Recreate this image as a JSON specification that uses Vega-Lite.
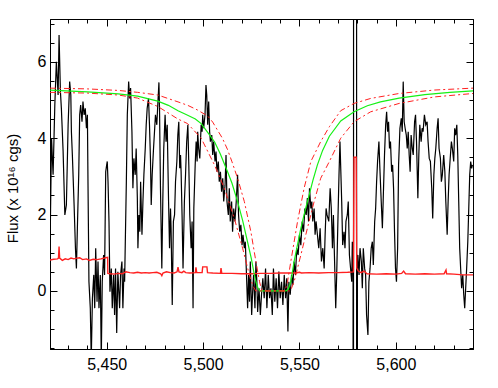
{
  "$schema": "https://vega.github.io/schema/vega-lite/v6.json",
  "width": 423,
  "height": 330,
  "autosize": "none",
  "padding": {"left": 50, "top": 19, "right": 25, "bottom": 39},
  "background": "white",
  "config": {
    "view": {"stroke": "#000", "strokeWidth": 1},
    "font": "Liberation Sans",
    "axis": {"grid": false, "domainColor": "#000", "tickColor": "#000", "labelColor": "#000", "titleColor": "#000", "offset": 0, "labelFont": "Liberation Sans", "titleFont": "Liberation Sans"}
  },
  "datasets": {
    "spec": [
      {"x":5420.3,"y":0.6},{"x":5420.8,"y":1.8},{"x":5421.4,"y":4.0},{"x":5422.2,"y":3.04},{"x":5423.1,"y":4.87},{"x":5423.9,"y":6.0},{"x":5424.8,"y":5.13},{"x":5425.3,"y":6.7},{"x":5426.0,"y":5.22},{"x":5426.5,"y":4.78},{"x":5427.4,"y":3.65},{"x":5428.3,"y":1.99},{"x":5429.1,"y":2.25},{"x":5430.0,"y":4.35},{"x":5430.8,"y":5.48},{"x":5431.4,"y":5.13},{"x":5431.7,"y":4.17},{"x":5432.2,"y":3.56},{"x":5433.1,"y":2.25},{"x":5433.8,"y":1.12},{"x":5434.3,"y":0.59},{"x":5434.8,"y":1.64},{"x":5435.5,"y":3.04},{"x":5436.0,"y":4.61},{"x":5436.5,"y":4.87},{"x":5437.2,"y":4.43},{"x":5437.7,"y":4.96},{"x":5438.3,"y":4.61},{"x":5438.9,"y":4.78},{"x":5439.5,"y":4.26},{"x":5440.0,"y":4.61},{"x":5440.3,"y":2.86},{"x":5440.8,"y":0.24},{"x":5441.5,"y":-0.45},{"x":5442.0,"y":-1.8},{"x":5442.6,"y":-0.19},{"x":5443.3,"y":0.42},{"x":5443.8,"y":-0.45},{"x":5444.3,"y":1.12},{"x":5445.0,"y":-0.28},{"x":5445.5,"y":0.77},{"x":5446.0,"y":-0.45},{"x":5446.7,"y":0.42},{"x":5447.2,"y":-1.8},{"x":5447.7,"y":0.24},{"x":5448.4,"y":0.94},{"x":5448.9,"y":0.42},{"x":5449.5,"y":3.12},{"x":5450.0,"y":3.3},{"x":5450.3,"y":3.39},{"x":5450.7,"y":2.86},{"x":5451.2,"y":1.82},{"x":5451.7,"y":-0.02},{"x":5452.4,"y":0.59},{"x":5452.9,"y":-0.45},{"x":5453.6,"y":0.42},{"x":5454.1,"y":-0.63},{"x":5454.6,"y":0.59},{"x":5455.2,"y":-1.1},{"x":5455.8,"y":0.5},{"x":5456.7,"y":-0.45},{"x":5457.2,"y":0.42},{"x":5457.9,"y":0.77},{"x":5458.4,"y":-0.45},{"x":5459.0,"y":0.59},{"x":5459.3,"y":0.24},
      {"x":5460.2,"y":2.86},{"x":5460.7,"y":4.61},{"x":5461.4,"y":5.48},{"x":5461.9,"y":5.04},{"x":5462.4,"y":5.31},{"x":5463.1,"y":4.17},{"x":5463.6,"y":2.69},{"x":5464.1,"y":3.47},{"x":5464.8,"y":3.04},{"x":5465.3,"y":3.73},{"x":5465.9,"y":2.43},{"x":5466.2,"y":1.12},{"x":5466.7,"y":1.99},{"x":5467.2,"y":1.55},{"x":5467.6,"y":2.86},{"x":5468.3,"y":1.47},{"x":5468.8,"y":2.34},{"x":5469.3,"y":3.04},{"x":5470.0,"y":3.73},{"x":5470.5,"y":4.35},{"x":5471.0,"y":4.78},{"x":5471.7,"y":5.04},{"x":5472.2,"y":4.35},{"x":5472.7,"y":3.47},{"x":5473.1,"y":2.25},{"x":5473.6,"y":3.04},{"x":5474.3,"y":3.73},{"x":5474.8,"y":4.17},{"x":5475.3,"y":4.61},{"x":5476.0,"y":4.35},{"x":5476.5,"y":4.87},{"x":5477.1,"y":5.46},{"x":5477.4,"y":4.78},{"x":5477.9,"y":2.69},{"x":5478.6,"y":0.59},{"x":5479.1,"y":2.34},{"x":5479.6,"y":3.73},{"x":5480.3,"y":4.61},{"x":5480.8,"y":3.91},{"x":5481.4,"y":4.35},{"x":5481.7,"y":3.47},{"x":5482.1,"y":2.34},{"x":5482.6,"y":1.12},{"x":5483.1,"y":2.16},{"x":5483.4,"y":1.64},{"x":5484.0,"y":-0.37},{"x":5484.6,"y":1.82},{"x":5485.2,"y":1.99},{"x":5485.7,"y":2.86},{"x":5486.4,"y":3.39},{"x":5486.9,"y":4.08},{"x":5487.4,"y":4.43},{"x":5487.9,"y":3.21},{"x":5488.3,"y":3.56},{"x":5488.6,"y":3.12},{"x":5489.1,"y":1.99},{"x":5489.6,"y":0.59},{"x":5490.3,"y":2.34},{"x":5490.9,"y":3.04},{"x":5491.5,"y":3.91},{"x":5492.1,"y":4.35},
      {"x":5492.6,"y":3.3},{"x":5493.1,"y":1.99},{"x":5493.8,"y":1.12},{"x":5494.3,"y":1.82},{"x":5494.8,"y":-0.45},{"x":5495.2,"y":2.16},{"x":5495.9,"y":3.3},{"x":5496.4,"y":3.91},{"x":5496.9,"y":3.39},{"x":5497.2,"y":4.17},{"x":5497.7,"y":3.73},{"x":5498.3,"y":3.47},{"x":5499.0,"y":4.35},{"x":5499.5,"y":4.17},{"x":5499.8,"y":4.61},{"x":5500.3,"y":4.26},{"x":5501.0,"y":4.61},{"x":5501.5,"y":5.39},{"x":5501.9,"y":5.13},{"x":5502.4,"y":4.35},{"x":5502.9,"y":4.96},{"x":5503.4,"y":4.17},{"x":5503.8,"y":3.91},{"x":5504.5,"y":4.08},{"x":5505.0,"y":3.56},{"x":5505.5,"y":3.91},{"x":5506.2,"y":3.39},{"x":5506.7,"y":3.65},{"x":5507.2,"y":3.12},{"x":5507.9,"y":3.39},{"x":5508.4,"y":2.86},{"x":5509.0,"y":3.12},{"x":5509.6,"y":2.6},{"x":5510.2,"y":2.95},{"x":5510.7,"y":2.34},{"x":5511.4,"y":2.77},{"x":5511.9,"y":3.56},{"x":5512.4,"y":2.34},{"x":5513.1,"y":1.99},{"x":5513.6,"y":2.69},{"x":5514.1,"y":1.82},{"x":5514.8,"y":2.34},{"x":5515.3,"y":1.55},{"x":5515.9,"y":2.16},{"x":5516.5,"y":1.82},{"x":5517.2,"y":2.34},{"x":5517.9,"y":3.04},{"x":5518.4,"y":1.99},{"x":5519.0,"y":1.55},{"x":5519.6,"y":1.73},{"x":5520.2,"y":1.2},{"x":5520.7,"y":1.47},{"x":5521.4,"y":1.12},{"x":5521.9,"y":1.29},{"x":5522.4,"y":0.59},{"x":5523.1,"y":-0.45},{"x":5523.6,"y":0.42},{"x":5524.1,"y":-0.28},{"x":5524.5,"y":0.77},{"x":5525.2,"y":-0.63},{"x":5525.7,"y":-0.02},{"x":5526.2,"y":0.42},{"x":5526.9,"y":-0.45},{"x":5527.4,"y":0.77},{"x":5527.9,"y":0.24},
      {"x":5528.3,"y":-0.55},{"x":5529.0,"y":0.07},{"x":5529.7,"y":-0.63},{"x":5530.3,"y":-0.1},{"x":5531.0,"y":0.33},{"x":5531.7,"y":-0.19},{"x":5532.4,"y":0.59},{"x":5533.1,"y":-0.45},{"x":5533.8,"y":0.42},{"x":5534.5,"y":-0.19},{"x":5535.2,"y":0.07},{"x":5535.9,"y":-0.63},{"x":5536.5,"y":0.59},{"x":5537.2,"y":-0.28},{"x":5537.9,"y":0.33},{"x":5538.6,"y":-0.45},{"x":5539.3,"y":0.51},{"x":5540.0,"y":-0.19},{"x":5540.7,"y":0.24},{"x":5541.4,"y":-0.37},{"x":5542.1,"y":0.42},{"x":5542.8,"y":-0.19},{"x":5543.4,"y":0.33},{"x":5544.0,"y":-1.06},{"x":5544.5,"y":0.24},{"x":5545.2,"y":-0.1},{"x":5545.9,"y":0.42},{"x":5546.6,"y":0.16},{"x":5547.2,"y":0.77},{"x":5547.9,"y":0.42},{"x":5548.6,"y":1.12},{"x":5549.3,"y":0.94},{"x":5550.0,"y":1.47},{"x":5550.7,"y":1.2},{"x":5551.4,"y":1.82},{"x":5552.1,"y":1.55},{"x":5552.8,"y":2.16},{"x":5553.5,"y":1.99},{"x":5554.1,"y":2.43},{"x":5554.7,"y":1.82},{"x":5555.2,"y":2.69},{"x":5555.9,"y":2.16},{"x":5556.4,"y":2.34},{"x":5556.9,"y":1.82},{"x":5557.6,"y":2.16},{"x":5558.1,"y":1.47},{"x":5558.6,"y":1.82},{"x":5559.3,"y":1.47},{"x":5560.0,"y":1.12},{"x":5560.7,"y":1.64},{"x":5561.4,"y":0.77},{"x":5562.1,"y":1.12},{"x":5562.8,"y":0.59},{"x":5563.3,"y":1.47},{"x":5563.8,"y":2.16},{"x":5564.3,"y":1.99},
      {"x":5565.2,"y":1.82},{"x":5565.9,"y":2.69},{"x":5566.5,"y":2.16},{"x":5567.1,"y":1.12},{"x":5567.6,"y":1.99},{"x":5568.3,"y":0.59},{"x":5568.8,"y":-0.45},{"x":5569.3,"y":0.42},{"x":5570.0,"y":1.99},{"x":5570.5,"y":3.04},{"x":5571.0,"y":3.91},{"x":5571.4,"y":3.21},{"x":5571.9,"y":2.34},{"x":5572.4,"y":1.2},{"x":5573.1,"y":1.55},{"x":5573.6,"y":1.12},{"x":5574.1,"y":1.82},{"x":5574.8,"y":1.99},{"x":5575.3,"y":2.34},{"x":5575.9,"y":0.94},{"x":5576.5,"y":0.59},{"x":5577.1,"y":0.24},{"x":5577.4,"y":1.29},{"x":5577.8,"y":0.5},{"x":5577.85,"y":-60},{"x":5578.2,"y":60},{"x":5579.6,"y":60},{"x":5579.65,"y":-60},{"x":5580.0,"y":-60},{"x":5580.05,"y":0.9},{"x":5580.3,"y":0.94},{"x":5580.9,"y":0.42},{"x":5581.4,"y":1.12},{"x":5582.1,"y":0.77},{"x":5582.6,"y":0.07},{"x":5583.1,"y":1.12},{"x":5583.8,"y":0.59},{"x":5584.3,"y":0.42},{"x":5584.8,"y":-0.63},{"x":5585.5,"y":-1.15},{"x":5586.0,"y":0.24},{"x":5586.6,"y":0.59},{"x":5587.2,"y":1.12},{"x":5587.8,"y":1.29},{"x":5588.3,"y":0.68},{"x":5589.0,"y":1.82},{"x":5589.5,"y":2.16},{"x":5590.0,"y":2.86},{"x":5590.5,"y":3.39},{"x":5591.2,"y":3.91},{"x":5591.7,"y":3.21},{"x":5592.4,"y":2.34},{"x":5593.0,"y":1.64},{"x":5593.4,"y":2.34},{"x":5594.1,"y":3.56},{"x":5594.7,"y":4.35},{"x":5595.2,"y":4.69},{"x":5595.7,"y":4.17},{"x":5596.2,"y":4.43},{"x":5596.7,"y":3.73},{"x":5597.2,"y":3.91},{"x":5597.8,"y":3.12},{"x":5598.3,"y":3.3},{"x":5598.8,"y":2.69},{"x":5599.3,"y":1.55},{"x":5599.8,"y":0.59},{"x":5600.3,"y":0.24},{"x":5600.9,"y":1.12},
      {"x":5601.4,"y":3.3},{"x":5602.1,"y":4.26},{"x":5602.8,"y":4.52},{"x":5603.3,"y":4.17},{"x":5603.8,"y":5.48},{"x":5604.3,"y":4.43},{"x":5604.8,"y":4.26},{"x":5605.4,"y":4.08},{"x":5605.9,"y":3.73},{"x":5606.4,"y":4.17},{"x":5606.9,"y":3.56},{"x":5607.4,"y":3.12},{"x":5607.9,"y":4.08},{"x":5608.5,"y":3.73},{"x":5609.0,"y":3.56},{"x":5609.7,"y":4.43},{"x":5610.2,"y":4.61},{"x":5610.7,"y":3.91},{"x":5611.4,"y":2.43},{"x":5611.9,"y":3.56},{"x":5612.4,"y":4.35},{"x":5613.1,"y":3.91},{"x":5613.6,"y":4.26},{"x":5614.1,"y":4.17},{"x":5614.8,"y":4.61},{"x":5615.5,"y":4.35},{"x":5616.2,"y":4.43},{"x":5616.7,"y":3.91},{"x":5617.3,"y":3.47},{"x":5617.9,"y":3.39},{"x":5618.6,"y":2.69},{"x":5619.1,"y":1.9},{"x":5619.7,"y":3.04},{"x":5620.2,"y":3.47},{"x":5620.7,"y":3.73},{"x":5621.4,"y":4.26},{"x":5621.9,"y":4.52},{"x":5622.4,"y":3.73},{"x":5623.1,"y":3.47},{"x":5623.6,"y":2.86},{"x":5624.1,"y":3.04},{"x":5624.8,"y":3.56},{"x":5625.4,"y":3.12},{"x":5625.9,"y":2.34},{"x":5626.6,"y":1.47},{"x":5627.1,"y":2.34},{"x":5627.6,"y":3.04},{"x":5628.3,"y":3.56},{"x":5628.8,"y":3.91},{"x":5629.3,"y":3.73},{"x":5630.0,"y":3.39},{"x":5630.5,"y":4.26},{"x":5631.0,"y":4.08},{"x":5631.6,"y":4.35},{"x":5632.1,"y":3.56},{"x":5632.6,"y":2.34},{"x":5633.1,"y":1.12},{"x":5633.6,"y":0.59},{"x":5634.1,"y":0.07},{"x":5634.7,"y":0.42},{"x":5635.2,"y":-0.1},{"x":5635.7,"y":-0.45},{"x":5636.2,"y":0.07},{"x":5636.7,"y":0.59},{"x":5637.3,"y":1.29},{"x":5637.8,"y":2.16},{"x":5638.3,"y":3.04},{"x":5638.8,"y":3.39},{"x":5639.3,"y":3.21},{"x":5639.7,"y":3.3}
    ],
    "err": [
      {"x":5420.5,"y":0.81},{"x":5422.5,"y":0.83},{"x":5424.5,"y":0.84},{"x":5425.0,"y":0.86},{"x":5425.3,"y":1.16},{"x":5425.6,"y":0.86},{"x":5427.0,"y":0.8},{"x":5428.5,"y":0.84},{"x":5430.0,"y":0.82},{"x":5431.5,"y":0.86},{"x":5433.0,"y":0.84},{"x":5434.5,"y":0.86},{"x":5436.0,"y":0.87},{"x":5437.5,"y":0.82},{"x":5439.5,"y":0.84},{"x":5441.0,"y":0.8},{"x":5443.0,"y":0.83},{"x":5445.0,"y":0.82},{"x":5447.0,"y":0.84},{"x":5449.5,"y":0.87},{"x":5450.5,"y":0.88},{"x":5450.6,"y":0.46},{"x":5452.0,"y":0.45},{"x":5454.0,"y":0.44},{"x":5456.0,"y":0.46},{"x":5458.0,"y":0.45},{"x":5460.0,"y":0.5},{"x":5462.0,"y":0.48},{"x":5464.0,"y":0.47},{"x":5466.0,"y":0.49},{"x":5468.0,"y":0.47},{"x":5470.0,"y":0.48},{"x":5472.0,"y":0.47},{"x":5474.0,"y":0.48},{"x":5476.0,"y":0.49},{"x":5478.0,"y":0.45},{"x":5478.6,"y":0.4},{"x":5479.2,"y":0.47},{"x":5481.0,"y":0.5},{"x":5483.0,"y":0.48},{"x":5485.0,"y":0.47},{"x":5486.5,"y":0.5},{"x":5487.0,"y":0.62},{"x":5487.5,"y":0.5},{"x":5489.0,"y":0.48},{"x":5490.0,"y":0.52},{"x":5491.0,"y":0.48},{"x":5493.0,"y":0.47},{"x":5496.0,"y":0.48},{"x":5496.3,"y":0.62},{"x":5496.7,"y":0.48},{"x":5499.5,"y":0.48},{"x":5499.8,"y":0.63},{"x":5502.0,"y":0.63},{"x":5502.3,"y":0.48},{"x":5505.0,"y":0.47},{"x":5509.0,"y":0.46},{"x":5509.3,"y":0.6},{"x":5509.7,"y":0.46},{"x":5515.0,"y":0.46},{"x":5520.0,"y":0.45},{"x":5525.0,"y":0.45},{"x":5530.0,"y":0.46},{"x":5535.0,"y":0.46},{"x":5540.0,"y":0.47},{"x":5544.0,"y":0.47},{"x":5548.0,"y":0.47},{"x":5550.0,"y":0.49},{"x":5551.0,"y":0.47},{"x":5555.0,"y":0.48},{"x":5560.0,"y":0.47},{"x":5565.0,"y":0.48},{"x":5570.0,"y":0.48},{"x":5575.0,"y":0.49},{"x":5578.0,"y":0.5},{"x":5578.3,"y":3.5},{"x":5579.4,"y":3.5},{"x":5579.7,"y":0.6},{"x":5580.5,"y":0.52},{"x":5582.0,"y":0.48},{"x":5583.5,"y":0.52},{"x":5585.0,"y":0.45},{"x":5590.0,"y":0.44},{"x":5595.0,"y":0.45},{"x":5600.0,"y":0.44},{"x":5603.0,"y":0.46},{"x":5604.0,"y":0.52},{"x":5605.0,"y":0.45},{"x":5610.0,"y":0.44},{"x":5615.0,"y":0.45},{"x":5620.0,"y":0.44},{"x":5625.0,"y":0.45},{"x":5626.0,"y":0.55},{"x":5626.3,"y":0.45},{"x":5630.0,"y":0.44},{"x":5635.0,"y":0.42},{"x":5640.0,"y":0.42}
    ],
    "green": [
      {"x":5420.6,"y":5.26},{"x":5440,"y":5.21},{"x":5456,"y":5.16},{"x":5466,"y":5.1},{"x":5476.5,"y":4.97},{"x":5482,"y":4.86},{"x":5487,"y":4.72},{"x":5492,"y":4.6},{"x":5496,"y":4.5},{"x":5499,"y":4.38},{"x":5502,"y":4.18},{"x":5506,"y":3.9},{"x":5509,"y":3.58},{"x":5512.7,"y":3.12},{"x":5515,"y":2.82},{"x":5517.9,"y":2.34},{"x":5520.5,"y":1.85},{"x":5523,"y":1.3},{"x":5525,"y":0.85},{"x":5526.5,"y":0.45},{"x":5527.5,"y":0.22},{"x":5528.5,"y":0.07},{"x":5529.5,"y":0.0},{"x":5543,"y":0.0},{"x":5544.2,"y":0.05},{"x":5545.5,"y":0.24},{"x":5547.2,"y":0.77},{"x":5549,"y":1.22},{"x":5550.7,"y":1.64},{"x":5553,"y":2.12},{"x":5555,"y":2.51},{"x":5557,"y":2.9},{"x":5559.3,"y":3.3},{"x":5562,"y":3.68},{"x":5565.5,"y":4.05},{"x":5571.4,"y":4.45},{"x":5578.3,"y":4.69},{"x":5585.2,"y":4.85},{"x":5592,"y":4.95},{"x":5601.7,"y":5.05},{"x":5615,"y":5.14},{"x":5628,"y":5.2},{"x":5640,"y":5.24}
    ],
    "redHi": [
      {"x":5420.6,"y":5.31},{"x":5440,"y":5.29},{"x":5456,"y":5.25},{"x":5466,"y":5.2},{"x":5476.5,"y":5.13},{"x":5487,"y":4.95},{"x":5492,"y":4.86},{"x":5497,"y":4.74},{"x":5502.4,"y":4.58},{"x":5505,"y":4.42},{"x":5507.6,"y":4.2},{"x":5510,"y":4.0},{"x":5512.7,"y":3.7},{"x":5515,"y":3.38},{"x":5517.9,"y":2.95},{"x":5521.4,"y":2.34},{"x":5524.8,"y":1.55},{"x":5527.4,"y":0.77},{"x":5529.3,"y":0.24},{"x":5530.2,"y":0.05},{"x":5530.8,"y":0.0},{"x":5542.5,"y":0.0},{"x":5543.8,"y":0.24},{"x":5545.5,"y":0.77},{"x":5549,"y":1.82},{"x":5552.4,"y":2.69},{"x":5555.9,"y":3.39},{"x":5561,"y":3.91},{"x":5565.5,"y":4.3},{"x":5571.4,"y":4.72},{"x":5578.3,"y":4.91},{"x":5586.9,"y":5.04},{"x":5601.7,"y":5.17},{"x":5620,"y":5.26},{"x":5640,"y":5.31}
    ],
    "redLo": [
      {"x":5420.6,"y":5.2},{"x":5440,"y":5.18},{"x":5456,"y":5.13},{"x":5466,"y":5.05},{"x":5476.5,"y":4.83},{"x":5487,"y":4.5},{"x":5492,"y":4.38},{"x":5499,"y":4.0},{"x":5505.9,"y":3.3},{"x":5511,"y":2.69},{"x":5516.2,"y":1.9},{"x":5520.5,"y":1.12},{"x":5524,"y":0.42},{"x":5526,"y":0.12},{"x":5527.3,"y":0.0},{"x":5545.3,"y":0.0},{"x":5547.2,"y":0.24},{"x":5550.7,"y":0.94},{"x":5554.1,"y":1.64},{"x":5557.6,"y":2.34},{"x":5561,"y":2.95},{"x":5565.5,"y":3.39},{"x":5571.4,"y":4.0},{"x":5578.3,"y":4.43},{"x":5586.9,"y":4.69},{"x":5601.7,"y":4.91},{"x":5620,"y":5.08},{"x":5640,"y":5.17}
    ]
  },
  "resolve": {"axis": {"x": "independent", "y": "independent"}},
  "layer": [
    {
      "mark": {"type": "rule", "color": "#c4c4c4", "strokeWidth": 1, "strokeDash": [6, 3, 2, 3]},
      "encoding": {"y": {"datum": 0, "type": "quantitative", "axis": null}}
    },
    {
      "mark": {"type": "rule", "color": "#a070f0", "strokeWidth": 1, "strokeDash": [1, 2]},
      "encoding": {"y": {"datum": 5.37, "type": "quantitative", "axis": null}}
    },
    {
      "data": {"name": "spec"},
      "mark": {"type": "line", "color": "#000", "strokeWidth": 1.2, "clip": true},
      "encoding": {
        "x": {"field": "x", "type": "quantitative", "sort": null, "scale": {"domain": [5420.6, 5640], "nice": false, "zero": false},
          "axis": {"orient": "bottom", "values": [5450, 5500, 5550, 5600], "tickSize": -7, "labelPadding": 14, "labelFontSize": 16, "title": null, "labelFlush": false, "labelOverlap": false, "domain": true}},
        "y": {"field": "y", "type": "quantitative", "scale": {"domain": [-1.52, 7.12], "nice": false, "zero": false},
          "axis": {"orient": "left", "values": [0, 2, 4, 6], "tickSize": -7, "labelPadding": 11, "labelFontSize": 16, "labelFlush": false, "labelOverlap": false, "title": "Flux  (x 10¹⁶ cgs)", "titleFontSize": 15, "titleFontWeight": "normal", "titleX": -38, "titleY": 169, "titleAngle": 270, "titleAlign": "center", "titleBaseline": "middle"}}
      }
    },
    {
      "data": {"name": "err"},
      "mark": {"type": "line", "color": "#ff2020", "strokeWidth": 1.4, "clip": true},
      "encoding": {
        "x": {"field": "x", "type": "quantitative", "sort": null,
          "axis": {"orient": "bottom", "values": [5430, 5440, 5460, 5470, 5480, 5490, 5510, 5520, 5530, 5540, 5560, 5570, 5580, 5590, 5610, 5620, 5630], "tickSize": -4, "labels": false, "title": null, "domain": false}},
        "y": {"field": "y", "type": "quantitative",
          "axis": {"orient": "left", "values": [-1.5, -1, -0.5, 0.5, 1, 1.5, 2.5, 3, 3.5, 4.5, 5, 5.5, 6.5, 7], "tickSize": -4, "labels": false, "title": null, "domain": false}}
      }
    },
    {
      "data": {"name": "green"},
      "mark": {"type": "line", "color": "#16f016", "strokeWidth": 1.2, "clip": true},
      "encoding": {
        "x": {"field": "x", "type": "quantitative", "sort": null,
          "axis": {"orient": "top", "values": [5450, 5500, 5550, 5600], "tickSize": -7, "labels": false, "title": null, "domain": true}},
        "y": {"field": "y", "type": "quantitative",
          "axis": {"orient": "right", "values": [0, 2, 4, 6], "tickSize": -7, "labels": false, "title": null, "domain": true}}
      }
    },
    {
      "data": {"name": "redHi"},
      "mark": {"type": "line", "color": "#ff2020", "strokeWidth": 1, "strokeDash": [6, 3, 2, 3], "clip": true},
      "encoding": {
        "x": {"field": "x", "type": "quantitative", "sort": null,
          "axis": {"orient": "top", "values": [5430, 5440, 5460, 5470, 5480, 5490, 5510, 5520, 5530, 5540, 5560, 5570, 5580, 5590, 5610, 5620, 5630], "tickSize": -4, "labels": false, "title": null, "domain": false}},
        "y": {"field": "y", "type": "quantitative",
          "axis": {"orient": "right", "values": [-1.5, -1, -0.5, 0.5, 1, 1.5, 2.5, 3, 3.5, 4.5, 5, 5.5, 6.5, 7], "tickSize": -4, "labels": false, "title": null, "domain": false}}
      }
    },
    {
      "data": {"name": "redLo"},
      "mark": {"type": "line", "color": "#ff2020", "strokeWidth": 1, "strokeDash": [6, 3, 2, 3], "clip": true},
      "encoding": {
        "x": {"field": "x", "type": "quantitative", "sort": null, "axis": null},
        "y": {"field": "y", "type": "quantitative", "axis": null}
      }
    },
    {
      "mark": {"type": "rule", "color": "#7a7aff", "strokeWidth": 1.8, "strokeDash": [5, 4]},
      "encoding": {"x": {"datum": 5536, "type": "quantitative", "axis": null}}
    }
  ]
}
